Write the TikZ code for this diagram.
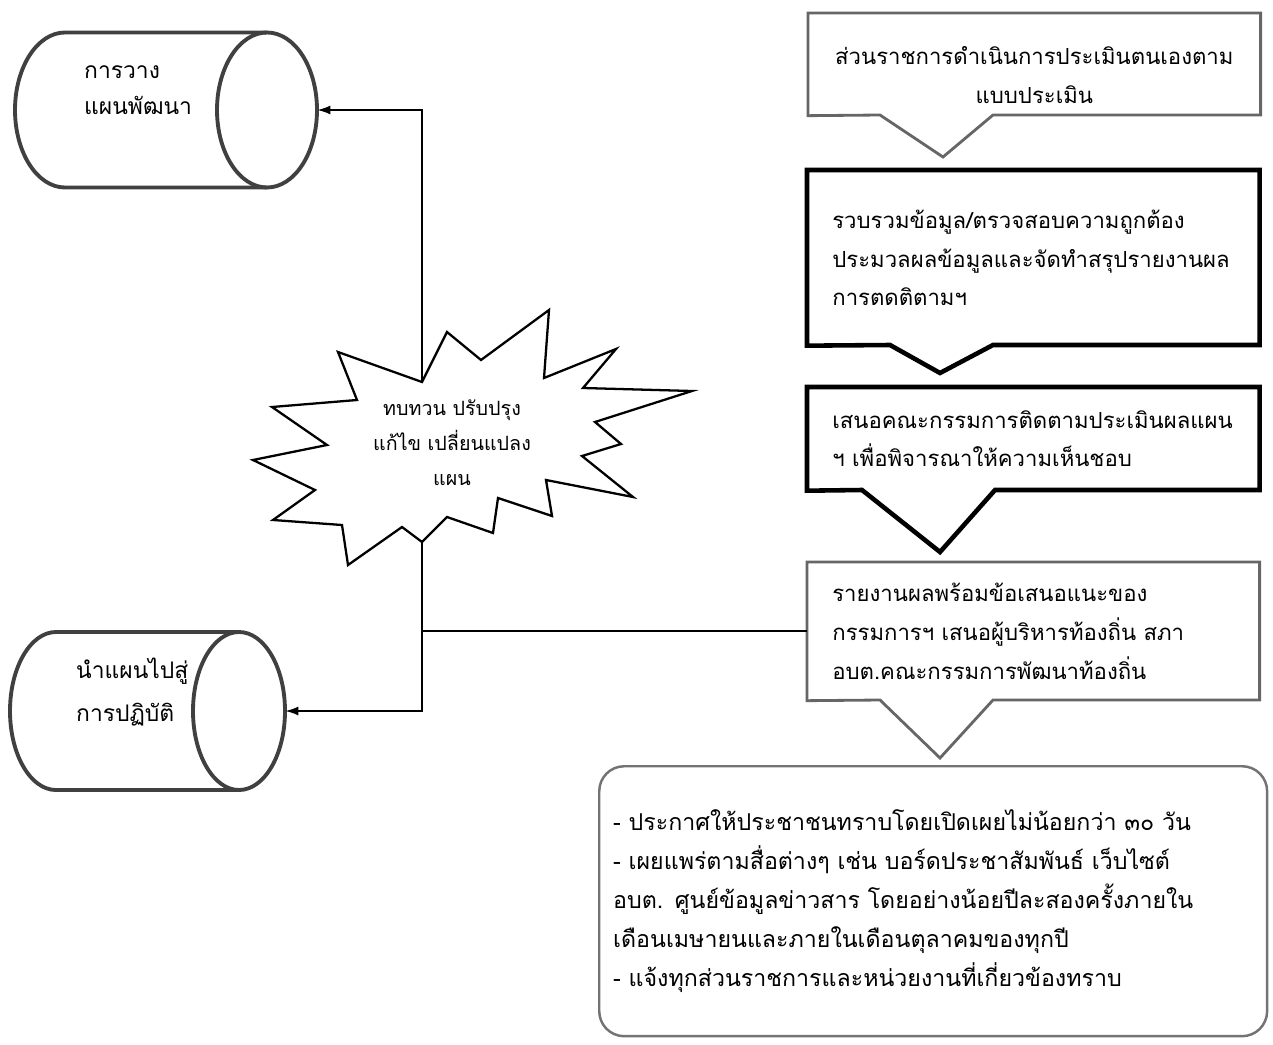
\documentclass[tikz,border=0pt]{standalone}
\usepackage{fontspec}
\setmainfont[Script=Thai]{Loma}
\usetikzlibrary{arrows.meta}
\begin{document}
\begin{tikzpicture}[x=0.02cm,y=-0.02cm,
	drum/.style={draw=black!75,line width=2.2pt},
	boxtext/.style={anchor=north west,inner xsep=0.5cm,inner ysep=0,text width=8.04cm,align=left,font=\fontsize{12.6}{22}\selectfont},
	lightbox/.style={draw=black!60,line width=1.6pt,line join=miter},
	heavybox/.style={draw=black,line width=2.6pt,line join=miter},
	link/.style={line width=1pt},
	tip/.style={-{Latex[length=0.26cm,width=0.18cm]}}]
	\useasboundingbox (0,0) rectangle (1273,1044);
	\node[inner sep=0,minimum width=6.04cm,minimum height=3.1cm] (plan) at (166,110) {};
	\draw[drum] (267,187.5) -- (65,187.5) arc[start angle=90,end angle=270,x radius=50,y radius=77.5] -- (267,32.5);
	\draw[drum] (267,110) ellipse [x radius=50,y radius=77.5];
	\node[anchor=west,align=left,font=\fontsize{13}{20.5}\selectfont] (plantext) at (78,90) {การวาง\\แผนพัฒนา};
	\node[inner sep=0,minimum width=5.5cm,minimum height=3.16cm] (deploy) at (147.5,711) {};
	\draw[drum] (239,790) -- (56,790) arc[start angle=90,end angle=270,x radius=46,y radius=79] -- (239,632);
	\draw[drum] (239,711) ellipse [x radius=46,y radius=79];
	\node[anchor=west,align=left,font=\fontsize{13}{24}\selectfont] (deploytext) at (70,692) {นำแผนไปสู่\\การปฏิบัติ};
	\draw[line width=1.3pt,line join=miter] (422,382) -- (447,332) -- (481,360) -- (549,310) -- (544,378) -- (616,349) -- (583,388) -- (692,391) -- (595,422) -- (621,444) -- (582,456) -- (633,497) -- (546,480) -- (552,516) -- (498,498) -- (493,533) -- (447,517) -- (422,542) -- (402,527) -- (348,565) -- (342,525) -- (273,520) -- (315,490) -- (253,460) -- (327,445) -- (272,407) -- (357,400) -- (338,352) -- cycle;
	\node[align=center,font=\fontsize{11.2}{19.9}\selectfont] (burst) at (452,443) {ทบทวน ปรับปรุง\\แก้ไข เปลี่ยนแปลง\\แผน};
	\coordinate (bursttop) at (422,382);
	\coordinate (burstbot) at (422,542);
	\node[boxtext,align=center,minimum height=2.04cm,text depth=0.36cm] (b1) at (808,13) {ส่วนราชการดำเนินการประเมินตนเองตาม\\แบบประเมิน};
	\draw[lightbox] (b1.south west) |- (b1.north east) |- (993,115) -- (943,157) -- (880,115) -- cycle;
	\node[boxtext,minimum height=3.5cm] (b2) at (807,170) {รวบรวมข้อมูล/ตรวจสอบความถูกต้อง\\ประมวลผลข้อมูลและจัดทำสรุปรายงานผล\\การตดติตามฯ};
	\draw[heavybox] (b2.south west) |- (b2.north east) |- (993,345) -- (940,373) -- (890,345) -- cycle;
	\node[boxtext,minimum height=2.06cm] (b3) at (807,387) {เสนอคณะกรรมการติดตามประเมินผลแผน\\ฯ เพื่อพิจารณาให้ความเห็นชอบ};
	\draw[heavybox] (b3.south west) |- (b3.north east) |- (995,490) -- (940,552) -- (862,490) -- cycle;
	\node[boxtext,minimum height=2.76cm] (b4) at (807,562) {รายงานผลพร้อมข้อเสนอแนะของ\\กรรมการฯ เสนอผู้บริหารท้องถิ่น สภา\\อบต.คณะกรรมการพัฒนาท้องถิ่น};
	\draw[lightbox] (b4.south west) |- (b4.north east) |- (993,700) -- (940,758) -- (880,700) -- cycle;
	\node[boxtext,draw=black!55,line width=1.4pt,rounded corners=0.5cm,inner xsep=0.28cm,text width=12.8cm,minimum height=5.4cm,font=\fontsize{13.2}{22.3}\selectfont] (b5) at (598,765) {- ประกาศให้ประชาชนทราบโดยเปิดเผยไม่น้อยกว่า ๓๐ วัน\\- เผยแพร่ตามสื่อต่างๆ เช่น บอร์ดประชาสัมพันธ์ เว็บไซต์\\อบต. ศูนย์ข้อมูลข่าวสาร โดยอย่างน้อยปีละสองครั้งภายใน\\เดือนเมษายนและภายในเดือนตุลาคมของทุกปี\\- แจ้งทุกส่วนราชการและหน่วยงานที่เกี่ยวข้องทราบ};
	\draw[link,tip] (bursttop) |- (plan.east);
	\draw[link,tip] (burstbot) |- (deploy.east);
	\draw[link] (burstbot |- b4.west) -- (b4.west);
\end{tikzpicture}
\end{document}
